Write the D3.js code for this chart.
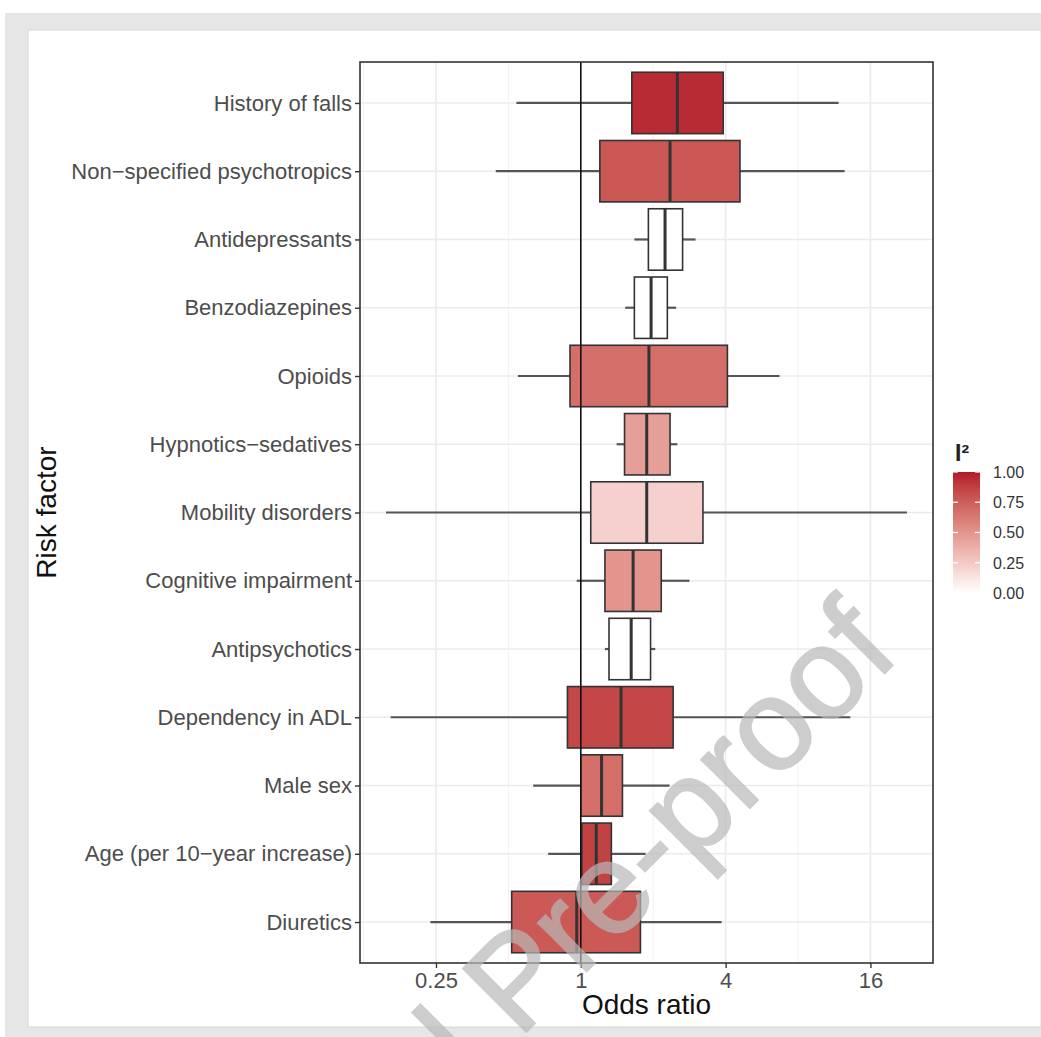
<!DOCTYPE html>
<html>
<head>
<meta charset="utf-8">
<script src="https://cdn.jsdelivr.net/npm/d3@7"></script>
<style>
  body { margin: 0; background: #fff; }
  text { font-family: "Liberation Sans", Arial, sans-serif; }
</style>
</head>
<body>
<div id="chart"></div>
<script>
// risk factors, top to bottom
var factors = ["History of falls", "Non\u2212specified psychotropics", "Antidepressants", "Benzodiazepines",
  "Opioids", "Hypnotics\u2212sedatives", "Mobility disorders", "Cognitive impairment", "Antipsychotics",
  "Dependency in ADL", "Male sex", "Age (per 10\u2212year increase)", "Diuretics"];

// odds ratios
var whiskerLow  = [0.54, 0.443, 1.67, 1.53, 0.548, 1.41, 0.155, 0.962, 1.26, 0.162, 0.634, 0.732, 0.237];
var boxLow      = [1.63, 1.20, 1.91, 1.67, 0.902, 1.52, 1.10, 1.26, 1.31, 0.88, 1.0, 1.01, 0.516];
var median      = [2.52, 2.35, 2.24, 1.96, 1.92, 1.88, 1.88, 1.65, 1.62, 1.47, 1.22, 1.16, 0.962];
var boxHigh     = [3.91, 4.59, 2.65, 2.29, 4.07, 2.35, 3.22, 2.16, 1.95, 2.42, 1.49, 1.34, 1.77];
var whiskerHigh = [11.8, 12.5, 3.0, 2.49, 6.70, 2.52, 22.7, 2.83, 2.04, 13.2, 2.34, 1.86, 3.85];
var i2          = [0.95, 0.78, 0, 0, 0.68, 0.45, 0.22, 0.5, 0, 0.85, 0.68, 0.87, 0.77];

var xTicks = [0.25, 1, 4, 16];
var xMinor = [0.125, 0.5, 2, 8];
var legendTicks = [0, 0.25, 0.5, 0.75, 1];

var W = 1041, H = 1037;
var panel = { left: 360, right: 933, top: 62, bottom: 963 };

var svg = d3.select("#chart").append("svg")
  .attr("width", W).attr("height", H);

// page frame (pdf viewer look)
svg.append("rect").attr("x", 0).attr("y", 0).attr("width", W).attr("height", H).attr("fill", "#fff");
svg.append("rect").attr("x", 5).attr("y", 13).attr("width", W - 5).attr("height", H - 13).attr("fill", "#e6e6e6");
svg.append("rect").attr("x", 28).attr("y", 30).attr("width", W - 28).attr("height", 997).attr("fill", "#fff")
  .attr("stroke", "#d6d6d6").attr("stroke-width", 1);

var data = factors.map(function(f, i) {
  return { name: f, wl: whiskerLow[i], bl: boxLow[i], med: median[i], bh: boxHigh[i], wh: whiskerHigh[i], i2: i2[i] };
});

// log2 scale with ggplot-style 5% expansion
var lmin = Math.log2(d3.min(whiskerLow)), lmax = Math.log2(d3.max(whiskerHigh));
var ex = (lmax - lmin) * 0.05;
var x = d3.scaleLog().base(2)
  .domain([Math.pow(2, lmin - ex), Math.pow(2, lmax + ex)])
  .range([panel.left, panel.right]);

var y = d3.scalePoint().domain(factors).range([panel.top, panel.bottom]).padding(0.6);
var boxH = y.step() * 0.9;

var color = d3.scaleLinear().domain([0, 1]).range(["#ffffff", "#B2182B"]).interpolate(d3.interpolateLab);

var g = svg.append("g");

// grid
g.selectAll(".minor").data(xMinor).enter().append("line")
  .attr("x1", function(d) { return x(d); }).attr("x2", function(d) { return x(d); })
  .attr("y1", panel.top).attr("y2", panel.bottom)
  .attr("stroke", "#f2f2f2").attr("stroke-width", 1);
g.selectAll(".major").data(xTicks).enter().append("line")
  .attr("x1", function(d) { return x(d); }).attr("x2", function(d) { return x(d); })
  .attr("y1", panel.top).attr("y2", panel.bottom)
  .attr("stroke", "#ebebeb").attr("stroke-width", 1.6);
g.selectAll(".hgrid").data(factors).enter().append("line")
  .attr("x1", panel.left).attr("x2", panel.right)
  .attr("y1", function(d) { return y(d); }).attr("y2", function(d) { return y(d); })
  .attr("stroke", "#ebebeb").attr("stroke-width", 1.6);

// whiskers
var rows = g.selectAll(".row").data(data).enter().append("g");
rows.append("line")
  .attr("x1", function(d) { return x(d.wl); }).attr("x2", function(d) { return x(d.bl); })
  .attr("y1", function(d) { return y(d.name); }).attr("y2", function(d) { return y(d.name); })
  .attr("stroke", "#555").attr("stroke-width", 2.2);
rows.append("line")
  .attr("x1", function(d) { return x(d.bh); }).attr("x2", function(d) { return x(d.wh); })
  .attr("y1", function(d) { return y(d.name); }).attr("y2", function(d) { return y(d.name); })
  .attr("stroke", "#555").attr("stroke-width", 2.2);
// boxes
rows.append("rect")
  .attr("x", function(d) { return x(d.bl); })
  .attr("width", function(d) { return x(d.bh) - x(d.bl); })
  .attr("y", function(d) { return y(d.name) - boxH / 2; })
  .attr("height", boxH)
  .attr("fill", function(d) { return color(d.i2); })
  .attr("stroke", "#333").attr("stroke-width", 1.6);
rows.append("line")
  .attr("x1", function(d) { return x(d.med); }).attr("x2", function(d) { return x(d.med); })
  .attr("y1", function(d) { return y(d.name) - boxH / 2; }).attr("y2", function(d) { return y(d.name) + boxH / 2; })
  .attr("stroke", "#333").attr("stroke-width", 3);

// reference line at OR = 1
g.append("line").attr("x1", x(1)).attr("x2", x(1))
  .attr("y1", panel.top).attr("y2", panel.bottom)
  .attr("stroke", "#111").attr("stroke-width", 1.6);

// panel border
g.append("rect").attr("x", panel.left).attr("y", panel.top)
  .attr("width", panel.right - panel.left).attr("height", panel.bottom - panel.top)
  .attr("fill", "none").attr("stroke", "#333").attr("stroke-width", 1.6);

// axes
var xAxis = d3.axisBottom(x).tickValues(xTicks).tickFormat(function(d) { return String(d); })
  .tickSize(5).tickPadding(4);
var gx = svg.append("g").attr("transform", "translate(0," + panel.bottom + ")").call(xAxis);
gx.select(".domain").remove();
gx.selectAll("line").attr("stroke", "#333").attr("stroke-width", 1.4);
gx.selectAll("text").attr("font-size", 22).attr("fill", "#4d4d4d").attr("font-family", "Liberation Sans, Arial, sans-serif");

var yAxis = d3.axisLeft(y).tickSize(5).tickPadding(3);
var gy = svg.append("g").attr("transform", "translate(" + panel.left + ",0)").call(yAxis);
gy.select(".domain").remove();
gy.selectAll("line").attr("stroke", "#333").attr("stroke-width", 1.4);
gy.selectAll("text").attr("font-size", 22).attr("fill", "#4d4d4d").attr("font-family", "Liberation Sans, Arial, sans-serif");

svg.append("text").attr("x", (panel.left + panel.right) / 2).attr("y", 1014)
  .attr("text-anchor", "middle").attr("font-size", 28).attr("fill", "#111").text("Odds ratio");
svg.append("text").attr("transform", "translate(56," + (panel.top + panel.bottom) / 2 + ") rotate(-90)")
  .attr("text-anchor", "middle").attr("font-size", 28).attr("fill", "#111").text("Risk factor");

// legend
var leg = { x: 953, w: 27, top: 472, bottom: 593 };
var ly = d3.scaleLinear().domain([0, 1]).range([leg.bottom, leg.top]);
var grad = svg.append("defs").append("linearGradient").attr("id", "i2grad")
  .attr("x1", 0).attr("y1", 1).attr("x2", 0).attr("y2", 0);
grad.selectAll("stop").data(d3.range(0, 1.01, 0.1)).enter().append("stop")
  .attr("offset", function(d) { return d; })
  .attr("stop-color", function(d) { return color(d); });
svg.append("rect").attr("x", leg.x).attr("y", leg.top).attr("width", leg.w).attr("height", leg.bottom - leg.top)
  .attr("fill", "url(#i2grad)");
var lt = svg.append("g").selectAll("g").data(legendTicks).enter().append("g");
lt.append("line").attr("x1", leg.x).attr("x2", leg.x + 5)
  .attr("y1", function(d) { return ly(d); }).attr("y2", function(d) { return ly(d); })
  .attr("stroke", "#fff").attr("stroke-width", 1.2);
lt.append("line").attr("x1", leg.x + leg.w - 5).attr("x2", leg.x + leg.w)
  .attr("y1", function(d) { return ly(d); }).attr("y2", function(d) { return ly(d); })
  .attr("stroke", "#fff").attr("stroke-width", 1.2);
lt.append("text").attr("x", 993).attr("y", function(d) { return ly(d); }).attr("dy", "0.36em")
  .attr("font-size", 16).attr("fill", "#333").text(function(d) { return d3.format(".2f")(d); });
svg.append("text").attr("x", 955).attr("y", 461).attr("font-size", 23).attr("font-weight", "bold")
  .attr("fill", "#222").text("I\u00b2");

// watermark
svg.append("text").attr("transform", "translate(902,656) rotate(-45)")
  .attr("text-anchor", "end").attr("font-size", 130).attr("fill", "#b8b8b8")
  .attr("stroke", "#b8b8b8").attr("stroke-width", 2).attr("opacity", 0.7)
  .text("Journal Pre-proof");
</script>
</body>
</html>
